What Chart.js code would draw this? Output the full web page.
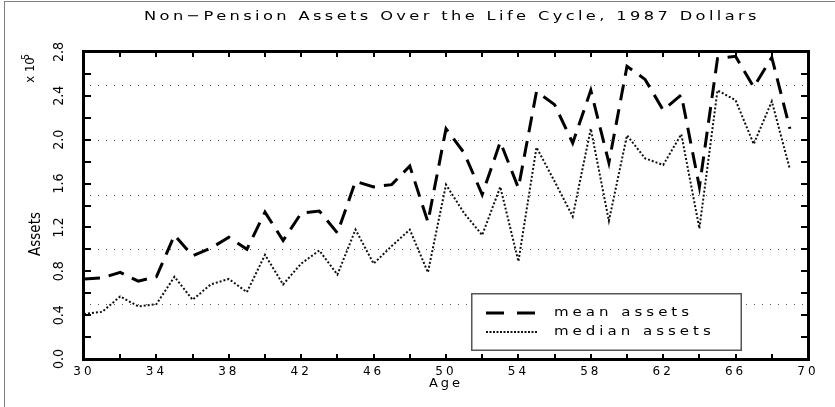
<!DOCTYPE html>
<html>
<head>
<meta charset="utf-8">
<script src="https://cdn.jsdelivr.net/npm/chart.js@4.4.1/dist/chart.umd.min.js"></script>
<style>
  html, body { margin: 0; padding: 0; background: #fff; }
  canvas { display: block; }
</style>
</head>
<body>
<canvas id="chart" width="835" height="407"></canvas>
<script>
// values are in units of 10^5 (1987 dollars)
const chartTitle = "Non\u2212Pension Assets Over the Life Cycle, 1987 Dollars";
const xAxisTitle = "Age";
const yAxisTitle = "Assets";
const seriesNames = ["mean assets", "median assets"];

const ages = [30, 31, 32, 33, 34, 35, 36, 37, 38, 39,
              40, 41, 42, 43, 44, 45, 46, 47, 48, 49,
              50, 51, 52, 53, 54, 55, 56, 57, 58, 59,
              60, 61, 62, 63, 64, 65, 66, 67, 68, 69];

const meanAssets = [0.73, 0.74, 0.79, 0.71, 0.75, 1.13, 0.94, 1.01, 1.11, 1.00,
                    1.34, 1.08, 1.33, 1.35, 1.15, 1.62, 1.57, 1.59, 1.76, 1.25,
                    2.10, 1.88, 1.50, 1.98, 1.56, 2.44, 2.32, 1.97, 2.45, 1.79,
                    2.67, 2.55, 2.27, 2.41, 1.57, 2.74, 2.76, 2.48, 2.75, 2.10];

const medianAssets = [0.41, 0.43, 0.57, 0.48, 0.50, 0.75, 0.54, 0.68, 0.73, 0.61,
                      0.95, 0.68, 0.87, 0.99, 0.77, 1.18, 0.87, 1.03, 1.18, 0.79,
                      1.59, 1.33, 1.13, 1.57, 0.89, 1.93, 1.62, 1.30, 2.10, 1.26,
                      2.04, 1.83, 1.77, 2.05, 1.19, 2.45, 2.36, 1.96, 2.35, 1.73];

const xTickLabels = ["30", "34", "38", "42", "46", "50", "54", "58", "62", "66", "70"];
const yTickLabels = ["0.0", "0.4", "0.8", "1.2", "1.6", "2.0", "2.4", "2.8"];
const gridValues = [0.5, 1.0, 1.5, 2.0, 2.5];

const WIDE = '"DejaVu Sans", sans-serif';
const NARROW = '"Liberation Sans Narrow", "DejaVu Sans Condensed", "Liberation Sans", sans-serif';

// rotated, condensed text (y axis side)
function vText(ctx, text, x, y, font) {
  ctx.save();
  ctx.translate(x, y);
  ctx.rotate(-Math.PI / 2);
  ctx.letterSpacing = "0px";
  ctx.font = font;
  ctx.textAlign = "center";
  ctx.textBaseline = "middle";
  ctx.fillText(text, 0, 0);
  ctx.restore();
}

// stretched, letter-spaced text (plotter look)
function wideText(ctx, text, x, y, size, align, spacing) {
  ctx.save();
  ctx.translate(x, y);
  ctx.scale(1.25, 1);
  ctx.font = size + "px " + WIDE;
  ctx.letterSpacing = spacing + "px";
  ctx.textAlign = align;
  ctx.textBaseline = "middle";
  ctx.fillText(text, 0, 0);
  ctx.restore();
}

const lifeCyclePlugin = {
  id: "lifeCycle",
  beforeDraw(chart) {
    const { ctx, width, height } = chart;
    ctx.save();
    ctx.fillStyle = "#808080";
    ctx.fillRect(4, 1, 1, height);
    ctx.fillRect(4, 1, width, 1);
    ctx.restore();
    ctx.letterSpacing = "3px"; // tick labels and x title
  },
  beforeDatasetsDraw(chart) {
    const { ctx, chartArea: a, scales: { y } } = chart;
    ctx.save();
    ctx.strokeStyle = "#555";
    ctx.lineWidth = 1;
    ctx.setLineDash([1, 7]);
    gridValues.forEach(v => {
      const py = Math.round(y.getPixelForValue(v)) + 0.5;
      ctx.beginPath();
      ctx.moveTo(a.left + 6, py);
      ctx.lineTo(a.right, py);
      ctx.stroke();
    });
    ctx.restore();
  },
  afterDraw(chart) {
    const { ctx, chartArea: a, scales: { x, y } } = chart;
    ctx.save();

    // plot frame and inward tick marks
    ctx.fillStyle = "#000";
    const L = Math.round(a.left), R = Math.round(a.right);
    const T = Math.round(a.top), B = Math.round(a.bottom);
    ctx.fillRect(L - 2, T - 2, 3, B - T + 4);
    ctx.fillRect(R - 1, T - 2, 3, B - T + 4);
    ctx.fillRect(L - 2, T - 2, R - L + 4, 3);
    ctx.fillRect(L - 2, B - 1, R - L + 4, 3);
    y.ticks.forEach(t => {
      const py = Math.round(y.getPixelForValue(t.value));
      ctx.fillRect(L, py - 1, 7, 2);
      ctx.fillRect(R - 7, py - 1, 7, 2);
    });
    x.ticks.forEach(t => {
      const px = Math.round(x.getPixelForValue(t.value));
      ctx.fillRect(px - 1, B - 5, 2, 5);
      ctx.fillRect(px - 1, T, 2, 5);
    });

    yTickLabels.forEach(l => vText(ctx, l, 59, y.getPixelForValue(parseFloat(l)), "14px " + NARROW));
    vText(ctx, yAxisTitle, 36, 234, "15px " + NARROW);
    vText(ctx, "x 10", 31, 70, "13px " + NARROW);
    vText(ctx, "5", 26, 57, "10px " + NARROW);

    wideText(ctx, chartTitle, 452, 17, 13, "center", 2.7);

    // legend box
    const lg = { left: 472, top: 294, right: 741, bottom: 350 };
    ctx.fillStyle = "#555";
    ctx.fillRect(lg.left - 1, lg.top - 1, lg.right - lg.left + 2, lg.bottom - lg.top + 2);
    ctx.fillStyle = "#fff";
    ctx.fillRect(lg.left + 0.5, lg.top + 0.5, lg.right - lg.left - 1, lg.bottom - lg.top - 1);

    const rows = [313, 332];
    const dashes = [[18, 13], [2, 1.5]];
    chart.data.datasets.forEach((ds, i) => {
      ctx.strokeStyle = ds.borderColor;
      ctx.lineWidth = ds.borderWidth;
      ctx.setLineDash(dashes[i]);
      ctx.beginPath();
      ctx.moveTo(486, rows[i]);
      ctx.lineTo(537, rows[i]);
      ctx.stroke();
      ctx.fillStyle = "#000";
      wideText(ctx, ds.label, 554, rows[i], 12, "left", 3.2);
    });
    ctx.restore();
  }
};

new Chart(document.getElementById("chart"), {
  type: "line",
  data: {
    datasets: [
      {
        label: seriesNames[0],
        data: ages.map((a, i) => ({ x: a, y: meanAssets[i] })),
        borderColor: "#000",
        borderWidth: 3,
        borderDash: [16, 9],
        pointRadius: 0,
        tension: 0,
        fill: false
      },
      {
        label: seriesNames[1],
        data: ages.map((a, i) => ({ x: a, y: medianAssets[i] })),
        borderColor: "#111",
        borderWidth: 2,
        borderDash: [2, 2],
        pointRadius: 0,
        tension: 0,
        fill: false
      }
    ]
  },
  options: {
    responsive: false,
    animation: false,
    layout: { padding: { left: 0, right: 27, top: 52, bottom: 0 } },
    plugins: {
      legend: { display: false },
      title: { display: false },
      tooltip: { enabled: false }
    },
    scales: {
      x: {
        type: "linear",
        position: "bottom",
        min: 30,
        max: 70,
        grid: { display: false, drawTicks: false },
        border: { display: false },
        ticks: {
          stepSize: 2,
          autoSkip: false,
          maxRotation: 0,
          padding: 6,
          color: "#000",
          font: { family: WIDE, size: 12 },
          callback: v => (xTickLabels.includes(String(v)) ? String(v) : "")
        },
        title: {
          display: true,
          text: xAxisTitle,
          color: "#000",
          font: { family: WIDE, size: 13 },
          padding: { top: 0, bottom: 16 }
        },
        afterFit: s => { s.height = 48; }
      },
      y: {
        position: "left",
        min: 0,
        max: 2.8,
        grid: { display: false, drawTicks: false },
        border: { display: false },
        ticks: { stepSize: 0.2, display: false },
        afterFit: s => { s.width = 84; }
      }
    }
  },
  plugins: [lifeCyclePlugin]
});
</script>
</body>
</html>
